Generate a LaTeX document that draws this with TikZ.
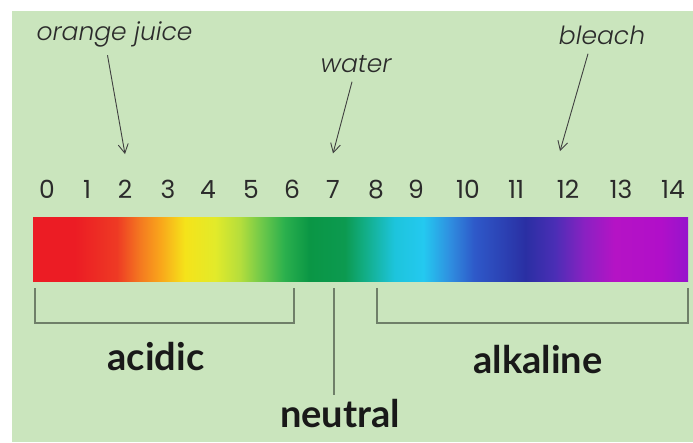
\documentclass[tikz,border=0pt]{standalone}
\usepackage{fontspec}
\usepackage{tikz}
\usetikzlibrary{arrows.meta}
\newfontfamily\numfont{Poppins}
\newfontfamily\notefont{Poppins Light Italic}
\newfontfamily\tagfont{Lato}
\definecolor{bgleaf}{HTML}{CAE5BD}
\definecolor{ink}{HTML}{2B2B2B}
\definecolor{brkgray}{HTML}{6F7F69}
\definecolor{phA}{HTML}{EC1C24}
\definecolor{phB}{HTML}{EE3A24}
\definecolor{phC}{HTML}{F47A20}
\definecolor{phD}{HTML}{F9A51B}
\definecolor{phE}{HTML}{F5E31A}
\definecolor{phF}{HTML}{E2EA2A}
\definecolor{phG}{HTML}{B5DE3C}
\definecolor{phH}{HTML}{6CC84A}
\definecolor{phI}{HTML}{2BB04D}
\definecolor{phJ}{HTML}{0A9645}
\definecolor{phK}{HTML}{0C9A50}
\definecolor{phL}{HTML}{12AD85}
\definecolor{phM}{HTML}{1DC4DC}
\definecolor{phN}{HTML}{24C9F0}
\definecolor{phO}{HTML}{2F8FE0}
\definecolor{phP}{HTML}{2E59C9}
\definecolor{phQ}{HTML}{2A2FA3}
\definecolor{phR}{HTML}{4A2EB5}
\definecolor{phS}{HTML}{8A21C2}
\definecolor{phT}{HTML}{B513C5}
\definecolor{phU}{HTML}{B10FC9}
\definecolor{phV}{HTML}{9614CC}
\pgfdeclarehorizontalshading{phbar}{100bp}{color(0bp)=(phA); color(25bp)=(phA);
  color(28.2bp)=(phA); color(31.4bp)=(phB); color(33.2bp)=(phC); color(34.7bp)=(phD);
  color(36.6bp)=(phE); color(38.9bp)=(phF); color(40.8bp)=(phG); color(42.5bp)=(phH);
  color(44.2bp)=(phI); color(46.1bp)=(phJ); color(48.8bp)=(phK); color(50.3bp)=(phL);
  color(52.6bp)=(phM); color(54.8bp)=(phN); color(56.8bp)=(phO); color(58.7bp)=(phP);
  color(62.6bp)=(phQ); color(64.8bp)=(phR); color(67.1bp)=(phS); color(69.4bp)=(phT);
  color(72.9bp)=(phU); color(75bp)=(phV); color(100bp)=(phV)}

\begin{document}
\begin{tikzpicture}[
  x=1pt,y=-1pt,
  num/.style={anchor=base,text=ink,font=\numfont\fontsize{25}{25}\selectfont},
  note/.style={anchor=base,text=ink,font=\notefont\fontsize{25}{25}\selectfont},
  tag/.style={anchor=base,text=black!90,font=\tagfont\bfseries\fontsize{38}{38}\selectfont},
  bar/.style={shading=phbar,minimum width=655pt,minimum height=64pt,inner sep=0pt},
  brk/.style={draw=brkgray,line width=1.2pt},
  pointer/.style={draw=ink!90,line width=0.9pt,-{Straight Barb[length=9pt,width=10pt]}}]
% page and background
\fill[white] (0,0) rectangle (693,442);
\fill[bgleaf] (12,11) rectangle (693,442);
% colour scale
\node[bar] (bar) at (360.5,249) {};
\foreach \v/\x in {0/47,1/87,2/125,3/168,4/208,5/251,6/292,7/333,
                   8/376,9/416,10/468,11/516,12/568,13/621,14/673}
  \node[num] (n\v) at (\x,198) {\v};
% examples
\node[note] (oj)  at (114.5,40) {orange juice};
\node[note] (wat) at (356,72)   {water};
\node[note] (blc) at (602,44)   {bleach};
\draw[pointer] ([xshift=-7pt,yshift=-5pt]oj.south) -- ([yshift=22pt]n2.north);
\draw[pointer] ([xshift=-4pt,yshift=-6pt]wat.south) -- ([yshift=23pt]n7.north);
\draw[pointer] ([xshift=-14pt,yshift=-6pt]blc.south) -- ([xshift=-8pt,yshift=25pt]n12.north);
% ranges
\node[tag] (acd) at (156,370) {acidic};
\node[tag] (alk) at (538,373) {alkaline};
\node[tag] (neu) at (340,427) {neutral};
\draw[brk] (35,288) |- (294,323) -- (294,288);
\draw[brk] (377,288) |- (688,323) -- (688,288);
\draw[brk] (334,288) -- ([xshift=-6pt]neu.north);
\end{tikzpicture}
\end{document}
